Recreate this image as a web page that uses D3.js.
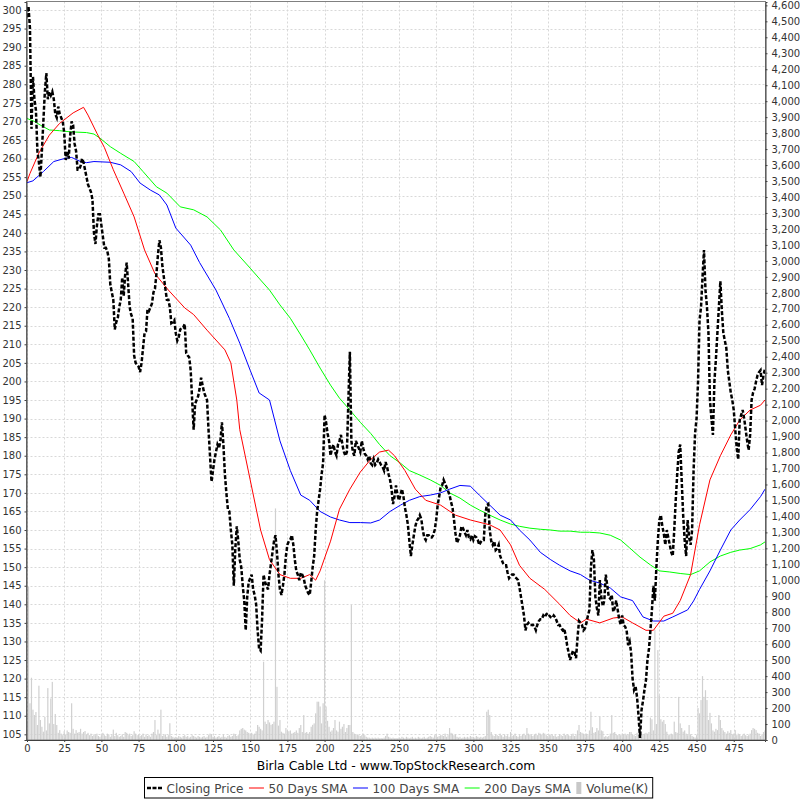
<!DOCTYPE html>
<html><head><meta charset="utf-8">
<script src="https://cdn.jsdelivr.net/npm/d3@7"></script>
<style>body{margin:0;background:#fff}</style>
</head><body>
<svg id="c" width="800" height="800"></svg>
<script>
// ---------- DATA ----------
const chartTitle = "Birla Cable Ltd - www.TopStockResearch.com";
const seriesNames = ["Closing Price", "50 Days SMA", "100 Days SMA", "200 Days SMA", "Volume(K)"];

// closing price, one value per trading day (index = day)
const closeVals = [
298,301,295,268,282,276,273,262,259,255,262,270,278,283,276,278,277,278,276,272,271,274,272,271,270,
267,259.6,262,260,266,270,269,264,262,257,257,258,260,259,257,255,253,252,251,249,240,237,242,245,245,
242,239,236,236,235,233,226,224,222,214,216,217,220,222,228,223,229,232,226,220,218,217,207,205,204.5,
204,202.5,205,209,213,213.5,219.5,219,220,221,224,225,229,234,238,236,231,228,225,222,222,220,215.7,216,216.5,
213,211,212,214,214.5,214.5,215.5,207.6,207,206.5,203,195,187,194,195,196,198,201,199,197,196,195,187,180,173,
176,179,181,183,182,184,189,183,175,170,165.6,165,160,156,145,155,161,157,152,150,145,141,133,142,146,
147,148,144,142.5,140,133,128,127.5,136,148,146,145,144,148,151,154,157,158.6,154,148,144,142.5,145,148,153,
156,157,157.5,158.6,156,152,149,148,146.5,148.5,148,147,145,144,143,142.5,146,150,153,160,165,168,171,175,178,
191,189,186,184,180,182,183,181,180,183,184,185.6,183,181,180,181,195,208,184,181,180,184,183,182,181,
184,182,180.5,180,179,180,178,177.5,179,177.5,178,179,178.3,177.5,177,176,178.3,177,175,173.5,171,167,169,172,169.4,
168,169.5,171,169,166,164,161.4,157,153,156,158.6,161,162.5,163,164,163,160,158,157.3,158.6,158.6,158,158,158.6,160,
162.7,166.7,169,171.5,172,173.5,172.5,171.5,170.5,169.4,167.5,166,162.7,159,156.5,157.5,158.6,161,160.5,159.5,158.6,160,158,157.5,158.6,
157.3,158.3,158,157.3,156,156.8,157.3,157.3,164,166.7,167,160,157,156,157,154.6,155,156,153,152,151,150.5,150.5,148.5,147,
147.5,148,148,147.3,147,146.5,144.5,142,139.5,137,133,134.5,135,134.4,134.4,134.5,134,133,134.5,135.5,136,136,137,136.5,137.3,
137.6,137,136.5,136.3,137,136.5,135.5,134.4,134.4,133.5,133,133.5,131.7,129,127,125,126.4,127.5,127,125.5,131,135.5,135,134.4,133,
133.5,135,137,138.5,150,154.6,152,142,139,137,146.5,142,139.5,141,148,145,142,141.5,142.5,138,139,141,138.5,136,134.5,
137,134.4,134,133,129,130,127,120,117,118,115,110,104,111.5,114,117,119.6,125,128,133,138.5,145,141,150,157.3,
162.7,164,161,159,156,160,158,156,154,153,160,168,175,181,183,173.5,164,157.3,153,162.7,158,156,160,176,186,
190,200,216.5,220,228,235.4,224.6,220,213,195,190,185.6,200,206,213,220,227,219,213,211,209,203,200,197,195,
192.3,187,182,179,189.6,191,192.3,190,187,184,181.5,185.6,195,197,198,200,201.7,202.5,203,199,201.7,203.5
];

const sma50Days = [0,2,8,15,22,31,38,41,47,52,58,65,72,79,86,95,106,112,121,133,137,141,143,150,157,163,170,177,184,190,194,197,204,210,217,224,231,237,243,247,254,261,268,278,288,298,311,318,325,331,338,348,358,365,372,376,385,394,400,407,416,421,428,434,439,446,452,459,466,473,479,486,493,496];
const sma50Vals = [253.8,256,261.5,266.3,269.5,272.3,273.8,271.7,266.8,263,257,250.7,244.3,235.4,229,224.6,219.8,218,213.8,208.5,205,195,187,173.5,160,152,148,147,147,148,146.5,149,157,165.6,171,175.6,179,181,181.5,180,176,171,168,166.7,164,162.7,161.4,160,156,150.5,147,144,140,137,135,136,135,136.3,136.6,135,133,133,136.8,137.6,141,148,161.4,173.5,180,185.6,189.6,192.3,193.6,195];

const sma100Days = [0,4,11,18,25,30,36,40,45,56,63,70,76,83,89,94,100,110,116,127,136,143,150,156,163,170,177,184,190,197,204,210,217,224,231,237,244,251,257,264,271,278,284,291,298,304,311,318,325,331,338,345,352,358,365,372,378,385,392,399,407,414,421,428,434,444,448,452,459,466,473,479,486,493,496];
const sma100Vals = [253.5,254,256.5,259.2,260,260.3,259.2,258.9,259.2,259,258.3,256.5,253.4,251.5,250.2,247.5,241.3,236.7,232,224.6,217,210.3,203,196.9,195,184,176,169.4,168,165,163.5,162.7,162,162,161.9,162.7,165,166.7,168,169,169.4,170,171,172,171.8,169.4,166.7,164,162.7,160,157.3,154,152,150.5,149,148,146.5,145.7,144.4,142,141,136.6,135.5,135.5,136.6,138.5,140.9,144,149,154.6,160,162.7,165.5,169,171];

const sma200Days = [0,5,9,15,22,29,40,45,49,56,63,72,78,87,94,103,112,121,130,139,150,157,163,170,177,184,190,197,204,210,217,224,231,237,244,251,257,264,271,278,284,291,298,304,311,318,325,331,338,345,352,358,365,372,378,385,392,399,405,412,419,425,432,439,446,452,459,466,473,479,486,493,496];
const sma200Vals = [270.8,270,269,267.7,267.5,267.2,267,266.6,265.5,263.2,261.4,259.2,256.5,252.4,250.7,247,246.2,244.3,240.8,235.4,230.5,227.3,224.6,220.6,217,212.5,208.5,203.6,199,195.5,192.3,189,186,183,180,178,176,174.8,173.5,172,170,168.6,166.7,165.4,164,162.7,161.6,161,160.5,160.2,160,159.7,159.7,159.4,159.4,159.2,158.6,157.3,155.2,152.7,150.6,149,148.7,148.3,148,149,151.4,153,154,154.6,155,156,156.8];

// volume in thousands, one value per trading day
const volumeK = [
120,960,230,390,190,156,175,94,340,125,83,52,145,60,325,104,260,364,100,163,94,45,62,40,30,
55,35,60,50,45,230,70,40,62,45,50,70,40,50,56,35,45,30,40,25,35,30,40,25,20,
30,45,30,25,40,35,20,30,65,25,45,30,20,25,35,20,50,45,30,40,25,30,55,40,30,
35,25,30,40,20,35,25,30,20,40,50,125,30,65,40,190,25,30,35,20,30,105,25,20,15,
20,15,25,20,15,25,30,20,25,15,20,30,25,20,15,25,20,15,20,25,15,20,30,40,35,
20,25,15,20,25,15,20,35,20,15,25,30,20,25,40,35,25,30,60,70,75,65,60,50,45,
40,45,35,40,55,94,83,70,60,490,115,100,125,110,95,100,115,1450,333,90,125,52,45,40,75,
60,55,60,40,45,50,60,45,75,94,50,156,45,50,40,50,83,95,104,167,240,240,210,104,230,
1000,210,120,83,52,60,75,125,60,52,115,70,83,100,50,75,94,94,845,50,40,31,35,30,25,
30,40,30,20,15,15,10,15,10,15,10,15,10,12,10,15,25,40,20,15,10,15,10,12,10,
15,10,20,15,10,20,15,10,15,20,10,15,10,20,15,10,15,20,10,15,20,25,20,15,30,
35,20,25,30,30,25,40,20,30,75,45,40,30,35,20,15,20,10,15,20,15,20,15,25,20,
20,15,25,20,15,20,15,20,25,177,190,156,50,30,25,35,30,25,40,30,20,35,25,30,20,
50,25,30,40,25,20,30,25,35,40,30,75,40,35,30,25,35,40,30,45,40,35,45,40,30,
25,35,30,35,25,30,20,25,35,30,25,40,30,35,30,25,30,40,25,30,60,94,50,45,40,
35,40,30,60,177,80,45,50,75,60,146,60,55,20,25,20,25,40,156,45,50,35,30,35,30,
40,35,40,30,35,50,50,35,30,25,45,50,20,40,35,40,45,40,50,140,130,60,690,100,563,
280,130,115,125,100,52,30,35,40,35,115,50,45,270,104,75,52,60,40,30,94,35,25,20,15,
30,200,167,250,400,270,312,250,125,170,104,60,52,70,62,156,125,75,60,50,40,55,45,62,35,
40,62,30,40,35,25,30,40,30,25,30,40,62,75,70,62,45,40,25,35,50,60
];

const xTicks = d3.range(0, 476, 25);
const leftTicks = d3.range(105, 301, 5);
const rightTicks = d3.range(0, 4601, 100);

// ---------- LAYOUT ----------
const svg = d3.select("#c");
const L = 26.5, R = 765.5, T = 1.5, B = 740;
const font = "DejaVu Sans, sans-serif";

const x = d3.scaleLinear().domain([0, closeVals.length - 1]).range([27, 765]);
const y = d3.scaleLinear().domain([103.47, 302.15]).range([740, 2]);
const yv = d3.scaleLinear().domain([0, 4621]).range([740, 2]);

svg.append("rect").attr("x", 0).attr("y", 0).attr("width", 800).attr("height", 800).attr("fill", "#fff");

// grid
const grid = svg.append("g").attr("stroke", "#d8d8d8").attr("stroke-width", 1).attr("stroke-dasharray", "2,2");
xTicks.forEach(t => grid.append("line").attr("x1", Math.round(x(t)) + 0.5).attr("x2", Math.round(x(t)) + 0.5).attr("y1", T).attr("y2", B));
leftTicks.forEach(t => grid.append("line").attr("x1", L).attr("x2", R).attr("y1", Math.round(y(t)) + 0.5).attr("y2", Math.round(y(t)) + 0.5));

// clip
svg.append("clipPath").attr("id", "clip").append("rect").attr("x", L).attr("y", T).attr("width", R - L).attr("height", B - T);
const plot = svg.append("g").attr("clip-path", "url(#clip)");

// volume bars
plot.append("g").attr("fill", "#d0d0d0").selectAll("rect").data(volumeK).join("rect")
  .attr("x", (d, i) => x(i) - 0.6).attr("width", 1.2)
  .attr("y", d => yv(d)).attr("height", d => B - yv(d));

const line = d3.line().x(d => x(d[0])).y(d => y(d[1]));
const zip = (a, b) => a.map((v, i) => [v, b[i]]);

plot.append("path").datum(zip(sma200Days, sma200Vals)).attr("d", line).attr("fill", "none").attr("stroke", "#00ff00").attr("stroke-width", 1);
plot.append("path").datum(zip(sma100Days, sma100Vals)).attr("d", line).attr("fill", "none").attr("stroke", "#0000ff").attr("stroke-width", 1);
plot.append("path").datum(zip(sma50Days, sma50Vals)).attr("d", line).attr("fill", "none").attr("stroke", "#ff0000").attr("stroke-width", 1);
plot.append("path").datum(closeVals.map((v, i) => [i, v])).attr("d", line).attr("fill", "none")
  .attr("stroke", "#000").attr("stroke-width", 2.5).attr("stroke-dasharray", "4,2");

// frame
svg.append("rect").attr("x", L).attr("y", T).attr("width", R - L).attr("height", B - T)
  .attr("fill", "none").attr("stroke", "#808080").attr("stroke-width", 1);

// axes
const axL = svg.append("g").attr("transform", `translate(${L},0)`)
  .call(d3.axisLeft(y).tickValues(leftTicks).tickSize(2).tickPadding(3).tickFormat(d3.format("d")));
const axR = svg.append("g").attr("transform", `translate(${R},0)`)
  .call(d3.axisRight(yv).tickValues(rightTicks).tickSize(2).tickPadding(4).tickFormat(d3.format(",")));
const axB = svg.append("g").attr("transform", `translate(0,${B})`)
  .call(d3.axisBottom(x).tickValues(xTicks).tickSize(2).tickPadding(3).tickFormat(d3.format("d")));
[axL, axR, axB].forEach(a => {
  a.select(".domain").attr("stroke", "#404040");
  a.selectAll(".tick line").attr("stroke", "#404040");
  a.selectAll("text").attr("font-family", font).attr("font-size", 10).attr("fill", "#333");
});

// title
svg.append("text").attr("x", 396).attr("y", 770).attr("text-anchor", "middle")
  .attr("font-family", font).attr("font-size", 12.4).attr("fill", "#000").text(chartTitle);

// legend
const lg = svg.append("g");
const ly = 788;
let cx = 147;
const syms = [
  {type: "dash", color: "#000"},
  {type: "line", color: "#ff0000"},
  {type: "line", color: "#0000ff"},
  {type: "line", color: "#00ff00"},
  {type: "box", color: "#c8c8c8"}
];
seriesNames.forEach((name, i) => {
  const s = syms[i];
  if (s.type === "dash") {
    lg.append("line").attr("x1", cx).attr("x2", cx + 15).attr("y1", ly).attr("y2", ly)
      .attr("stroke", "#000").attr("stroke-width", 2.5).attr("stroke-dasharray", "4,1.5");
    cx += 19.5;
  } else if (s.type === "line") {
    lg.append("line").attr("x1", cx).attr("x2", cx + 15).attr("y1", ly).attr("y2", ly)
      .attr("stroke", s.color).attr("stroke-width", 1);
    cx += 19.5;
  } else {
    lg.append("rect").attr("x", cx).attr("y", ly - 6).attr("width", 5).attr("height", 12).attr("fill", s.color);
    cx += 10;
  }
  const t = lg.append("text").attr("x", cx).attr("y", ly + 4.5).attr("font-family", font).attr("font-size", 12)
    .attr("fill", "#444").text(name);
  cx += t.node().getComputedTextLength() + 5.5;
});
lg.insert("rect", ":first-child").attr("x", 144.5).attr("y", 777.5).attr("width", cx - 144.5 - 1).attr("height", 20.5)
  .attr("fill", "#fff").attr("stroke", "#000").attr("stroke-width", 1);
</script>
</body></html>
